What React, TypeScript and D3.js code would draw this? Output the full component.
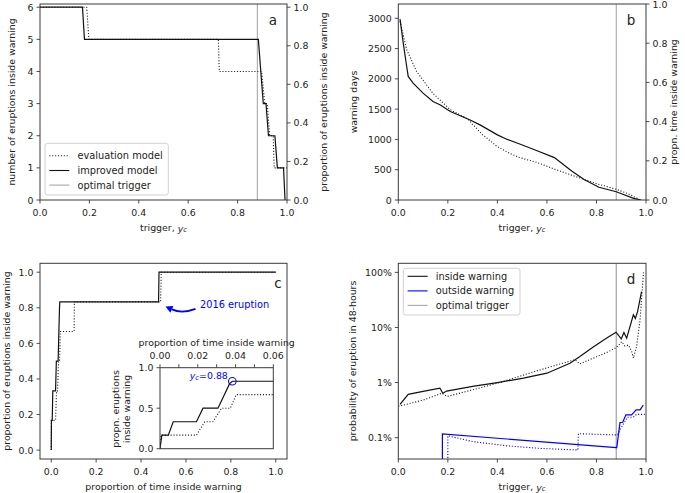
import React from "react";
import * as d3 from "d3";

// ---------------- data ----------------
// panel a: number of eruptions inside warning vs trigger
const aTriggerEval = [0, 0.189, 0.198, 0.722, 0.726, 0.897, 0.91, 0.92, 0.93, 0.944, 0.948, 0.99, 0.999];
const aEruptEval = [6, 6, 5, 5, 4, 4, 3, 3, 2, 2, 1, 1, 1];
const aTriggerImp = [0, 0.172, 0.18, 0.884, 0.904, 0.915, 0.925, 0.951, 0.961, 0.986, 0.992];
const aEruptImp = [6, 6, 5, 5, 3, 3, 2, 2, 1, 1, 0];

// panel b: warning days vs trigger
const bTriggerImp = [0.007, 0.02, 0.034, 0.04, 0.06, 0.1, 0.14, 0.17, 0.21, 0.29, 0.33, 0.4, 0.44, 0.49, 0.55, 0.63, 0.7, 0.75, 0.81, 0.88, 0.95, 0.98];
const bDaysImp = [2985, 2590, 2200, 2040, 1930, 1765, 1625, 1570, 1460, 1320, 1240, 1075, 1000, 925, 830, 700, 480, 340, 210, 137, 28, 0];
const bTriggerEval = [0.007, 0.034, 0.074, 0.14, 0.21, 0.28, 0.3, 0.34, 0.4, 0.45, 0.49, 0.56, 0.63, 0.7, 0.75, 0.8, 0.88, 0.93, 0.976];
const bDaysEval = [2950, 2480, 2120, 1760, 1490, 1340, 1250, 1080, 880, 770, 700, 620, 510, 410, 340, 270, 177, 100, 0];

// panel c: proportion of eruptions vs proportion of time inside warning
const cTimeImp = [0, 0.001, 0.0044, 0.007, 0.0193, 0.0228, 0.0307, 0.0368, 0.0383, 0.478, 0.48, 1.0];
const cEruptImp = [0, 0.167, 0.167, 0.333, 0.333, 0.5, 0.5, 0.8, 0.833, 0.833, 1.0, 1.0];
const cTimeEval = [0, 0.0005, 0.0193, 0.0237, 0.028, 0.0326, 0.0372, 0.0404, 0.102, 0.103, 0.487, 0.49, 1.0];
const cEruptEval = [0, 0.167, 0.167, 0.333, 0.333, 0.5, 0.5, 0.667, 0.667, 0.833, 0.833, 1.0, 1.0];
const optimalTime = 0.0383;
const optimalErupt = 0.833;
const optimalTrigger = 0.88;

// panel d: probability of eruption in 48 hours
const dTriggerInImp = [0.007, 0.04, 0.1, 0.168, 0.18, 0.195, 0.3, 0.4, 0.505, 0.6, 0.693, 0.733, 0.787, 0.84, 0.879, 0.9, 0.911, 0.922, 0.949, 0.957, 0.966, 0.982];
const dProbInImp = [0.004, 0.0061, 0.0069, 0.0079, 0.0064, 0.007, 0.0085, 0.01, 0.012, 0.0148, 0.0224, 0.0296, 0.044, 0.064, 0.082, 0.062, 0.081, 0.064, 0.169, 0.146, 0.194, 0.445];
const dTriggerInEval = [0, 0.1, 0.175, 0.198, 0.3, 0.4, 0.572, 0.713, 0.733, 0.84, 0.88, 0.902, 0.915, 0.929, 0.942, 0.949, 0.962, 0.976, 0.99];
const dProbInEval = [0.0037, 0.0048, 0.0064, 0.0056, 0.0074, 0.0097, 0.017, 0.026, 0.0218, 0.035, 0.043, 0.055, 0.046, 0.048, 0.037, 0.0277, 0.045, 0.137, 1.0];
const dTriggerOutImp = [0.178, 0.178, 0.88, 0.882, 0.895, 0.906, 0.919, 0.942, 0.96, 0.976, 0.989];
const dProbOutImp = [0.00001, 0.00117, 0.00066, 0.00066, 0.00188, 0.0019, 0.0026, 0.0026, 0.0032, 0.0032, 0.0039];
const dTriggerOutEval = [0.2, 0.2, 0.3, 0.44, 0.57, 0.715, 0.725, 0.727, 0.885, 0.895, 0.915, 0.925, 0.949, 0.962, 0.995];
const dProbOutEval = [0.00001, 0.00108, 0.00085, 0.00071, 0.00064, 0.0006, 0.0006, 0.00118, 0.00112, 0.00139, 0.00196, 0.00235, 0.00235, 0.00265, 0.00265];

// ticks
const unitTicks = [0, 0.2, 0.4, 0.6, 0.8, 1.0];
const aLeftTicks = [0, 1, 2, 3, 4, 5, 6];
const bLeftTicks = [0, 500, 1000, 1500, 2000, 2500, 3000];
const insetXTicks = [0, 0.01, 0.02, 0.03, 0.04, 0.05, 0.06];
const insetYTicks = [0, 0.5, 1.0];
const dYTicks = [0.001, 0.01, 0.1, 1];
const dYTickLabels = ["0.1%", "1%", "10%", "100%"];

// ---------------- styles ----------------
const FONT = "DejaVu Sans, Verdana, sans-serif";
const FS = 9.4;
const INK = "#222";
const SPINE = "#3a3a3a";
const GRAY = "#a8a8a8";
const BLUE = "#0000ff";
const DOT = "1.1,1.8";

type Box = { l: number; r: number; t: number; b: number };
const A: Box = { l: 40, r: 287, t: 4, b: 200 };
const B: Box = { l: 398.3, r: 646, t: 4, b: 200 };
const C: Box = { l: 40, r: 287, t: 263.3, b: 459 };
const D: Box = { l: 398.3, r: 646, t: 263.3, b: 459 };
const IN: Box = { l: 160, r: 273.3, t: 367.7, b: 448.7 };

const f1 = d3.format(".1f");
const f2 = d3.format(".2f");

function Ticks(props: {
  side: "left" | "right" | "top" | "bottom";
  scale: (v: number) => number;
  values: number[];
  pos: number;
  labels: (string | null)[];
}) {
  const { side, scale, values, pos, labels } = props;
  const L = 3.5;
  return (
    <g>
      {values.map((v, i) => {
        const p = scale(v);
        let line, text;
        const lab = labels[i];
        if (side === "left") {
          line = <line x1={pos - L} x2={pos} y1={p} y2={p} />;
          text = lab && <text x={pos - 6.5} y={p} textAnchor="end" dominantBaseline="central">{lab}</text>;
        } else if (side === "right") {
          line = <line x1={pos} x2={pos + L} y1={p} y2={p} />;
          text = lab && <text x={pos + 6.5} y={p} textAnchor="start" dominantBaseline="central">{lab}</text>;
        } else if (side === "bottom") {
          line = <line x1={p} x2={p} y1={pos} y2={pos + L} />;
          text = lab && <text x={p} y={pos + 12.3} textAnchor="middle" dominantBaseline="central">{lab}</text>;
        } else {
          line = <line x1={p} x2={p} y1={pos - L} y2={pos} />;
          text = lab && <text x={p} y={pos - 12.6} textAnchor="middle" dominantBaseline="central">{lab}</text>;
        }
        return (
          <g key={i}>
            <g stroke={SPINE} strokeWidth={0.9}>{line}</g>
            <g fill={INK} fontSize={FS}>{text}</g>
          </g>
        );
      })}
    </g>
  );
}

function Frame({ box }: { box: Box }) {
  return <rect x={box.l} y={box.t} width={box.r - box.l} height={box.b - box.t} fill="none" stroke={SPINE} strokeWidth={1} />;
}

function VLabel({ x, y, children }: { x: number; y: number; children: React.ReactNode }) {
  return (
    <text transform={`translate(${x},${y}) rotate(-90)`} textAnchor="middle" dominantBaseline="central" fontSize={FS} fill={INK}>
      {children}
    </text>
  );
}

function TriggerLabel({ x, y }: { x: number; y: number }) {
  return (
    <text x={x} y={y} textAnchor="middle" dominantBaseline="central" fontSize={FS} fill={INK}>
      trigger,{" "}
      <tspan fontStyle="italic">y</tspan>
      <tspan fontSize={6.8} dy={2.5} fontStyle="italic">c</tspan>
    </text>
  );
}

function mkLine(xs: (v: number) => number, ys: (v: number) => number, xv: number[], yv: number[]) {
  const pts = d3.zip(xv, yv) as [number, number][];
  return d3.line<[number, number]>().x((d) => xs(d[0])).y((d) => ys(d[1]))(pts) || "";
}

function LegendBox(props: { x: number; y: number; w: number; h: number; rows: { label: string; color: string; dash?: string }[]; rowY: number[] }) {
  const { x, y, w, h, rows, rowY } = props;
  return (
    <g>
      <rect x={x} y={y} width={w} height={h} rx={2.5} fill="#fff" fillOpacity={0.8} stroke="#cccccc" strokeWidth={0.9} />
      {rows.map((r, i) => (
        <g key={i}>
          <line x1={x + 4.3} x2={x + 24.3} y1={rowY[i]} y2={rowY[i]} stroke={r.color} strokeWidth={1.1} strokeDasharray={r.dash} />
          <text x={x + 32.5} y={rowY[i]} dominantBaseline="central" fontSize={9.8} fill={INK}>{r.label}</text>
        </g>
      ))}
    </g>
  );
}

export default function App() {
  // scales
  const xA = d3.scaleLinear().domain([0, 1]).range([A.l, A.r]);
  const yA = d3.scaleLinear().domain([0, 6.1]).range([A.b, A.t]);
  const yA2 = d3.scaleLinear().domain([0, 6.1 / 6]).range([A.b, A.t]);

  const xB = d3.scaleLinear().domain([0, 1]).range([B.l, B.r]);
  const yB = d3.scaleLinear().domain([0, 3236]).range([B.b, B.t]);
  const yB2 = d3.scaleLinear().domain([0, 1]).range([B.b, B.t]);

  const xC = d3.scaleLinear().domain([-0.05, 1.05]).range([C.l, C.r]);
  const yC = d3.scaleLinear().domain([-0.05, 1.05]).range([C.b, C.t]);

  const xI = d3.scaleLinear().domain([0, 0.06]).range([IN.l, IN.r]);
  const yI = d3.scaleLinear().domain([0, 1]).range([IN.b, IN.t]);

  const xD = d3.scaleLinear().domain([0, 1]).range([D.l, D.r]);
  const yD = d3.scaleLog().domain([0.00041, 1.46]).range([D.b, D.t]);

  const clip = (id: string, b: Box) => (
    <clipPath id={id}>
      <rect x={b.l} y={b.t} width={b.r - b.l} height={b.b - b.t} />
    </clipPath>
  );

  // arrow for 2016 eruption
  const tail: [number, number] = [195.5, 308.8];
  const ctrl: [number, number] = [182, 314];
  const tip: [number, number] = [165.5, 306.5];
  const dx = tip[0] - ctrl[0], dy = tip[1] - ctrl[1];
  const len = Math.hypot(dx, dy);
  const ux = dx / len, uy = dy / len;
  const hl = 7, hw = 3.6;
  const base: [number, number] = [tip[0] - ux * hl, tip[1] - uy * hl];
  const head = `${tip[0]},${tip[1]} ${base[0] - uy * hw},${base[1] + ux * hw} ${base[0] + uy * hw},${base[1] - ux * hw}`;

  const cx = xI(optimalTime), cy = yI(optimalErupt);

  return (
    <svg width={685} height={493} style={{ position: "absolute", left: 0, top: 0, background: "#fff" }} fontFamily={FONT}>
      <defs>
        {clip("cA", A)}
        {clip("cB", B)}
        {clip("cC", C)}
        {clip("cD", D)}
        {clip("cI", IN)}
      </defs>
      <rect x={0} y={0} width={685} height={493} fill="#fff" />

      {/* ---------- panel a ---------- */}
      <g clipPath="url(#cA)">
        <line x1={xA(optimalTrigger)} x2={xA(optimalTrigger)} y1={A.t} y2={A.b} stroke={GRAY} strokeWidth={1.1} />
        <path d={mkLine(xA, yA, aTriggerEval, aEruptEval)} fill="none" stroke="#222" strokeWidth={1.1} strokeDasharray={DOT} />
        <path d={mkLine(xA, yA, aTriggerImp, aEruptImp)} fill="none" stroke="#111" strokeWidth={1.2} />
      </g>
      <Frame box={A} />
      <Ticks side="bottom" scale={xA} values={unitTicks} pos={A.b} labels={unitTicks.map(f1)} />
      <Ticks side="left" scale={yA} values={aLeftTicks} pos={A.l} labels={aLeftTicks.map(String)} />
      <Ticks side="right" scale={yA2} values={unitTicks} pos={A.r} labels={unitTicks.map(f1)} />
      <text x={273} y={20} textAnchor="middle" dominantBaseline="central" fontSize={13.5} fill={INK}>a</text>
      <LegendBox
        x={45} y={143.3} w={123.3} h={51.7}
        rowY={[155.7, 170.5, 185.1]}
        rows={[
          { label: "evaluation model", color: "#222", dash: DOT },
          { label: "improved model", color: "#111" },
          { label: "optimal trigger", color: GRAY },
        ]}
      />
      <VLabel x={11} y={102}>number of eruptions inside warning</VLabel>
      <VLabel x={323} y={102}>proportion of eruptions inside warning</VLabel>
      <TriggerLabel x={163.5} y={227.5} />

      {/* ---------- panel b ---------- */}
      <g clipPath="url(#cB)">
        <line x1={xB(optimalTrigger)} x2={xB(optimalTrigger)} y1={B.t} y2={B.b} stroke={GRAY} strokeWidth={1.1} />
        <path d={mkLine(xB, yB, bTriggerEval, bDaysEval)} fill="none" stroke="#222" strokeWidth={1.1} strokeDasharray={DOT} />
        <path d={mkLine(xB, yB, bTriggerImp, bDaysImp)} fill="none" stroke="#111" strokeWidth={1.2} />
      </g>
      <Frame box={B} />
      <Ticks side="bottom" scale={xB} values={unitTicks} pos={B.b} labels={unitTicks.map(f1)} />
      <Ticks side="left" scale={yB} values={bLeftTicks} pos={B.l} labels={bLeftTicks.map(String)} />
      <Ticks side="right" scale={yB2} values={unitTicks} pos={B.r} labels={unitTicks.map(f1)} />
      <text x={631} y={19.5} textAnchor="middle" dominantBaseline="central" fontSize={13.5} fill={INK}>b</text>
      <VLabel x={353} y={102}>warning days</VLabel>
      <VLabel x={673} y={102}>propn. time inside warning</VLabel>
      <TriggerLabel x={522} y={227.5} />

      {/* ---------- panel c ---------- */}
      <g clipPath="url(#cC)">
        <path d={mkLine(xC, yC, cTimeEval, cEruptEval)} fill="none" stroke="#222" strokeWidth={1.1} strokeDasharray={DOT} />
        <path d={mkLine(xC, yC, cTimeImp, cEruptImp)} fill="none" stroke="#111" strokeWidth={1.2} />
      </g>
      <Frame box={C} />
      <Ticks side="bottom" scale={xC} values={unitTicks} pos={C.b} labels={unitTicks.map(f1)} />
      <Ticks side="left" scale={yC} values={unitTicks} pos={C.l} labels={unitTicks.map(f1)} />
      <text x={278} y={283} textAnchor="middle" dominantBaseline="central" fontSize={13.5} fill={INK}>c</text>
      <text x={200} y={304} dominantBaseline="central" fontSize={9.8} fill={BLUE}>2016 eruption</text>
      <path d={`M${tail[0]},${tail[1]} Q${ctrl[0]},${ctrl[1]} ${base[0]},${base[1]}`} fill="none" stroke={BLUE} strokeWidth={1.8} />
      <polygon points={head} fill={BLUE} />
      <VLabel x={6.5} y={361}>proportion of eruptions inside warning</VLabel>
      <text x={163.5} y={486.5} textAnchor="middle" dominantBaseline="central" fontSize={FS} fill={INK}>proportion of time inside warning</text>

      {/* inset */}
      <rect x={IN.l} y={IN.t} width={IN.r - IN.l} height={IN.b - IN.t} fill="#fff" />
      <g clipPath="url(#cI)">
        <path d={mkLine(xI, yI, cTimeEval, cEruptEval)} fill="none" stroke="#222" strokeWidth={1.1} strokeDasharray={DOT} />
        <path d={mkLine(xI, yI, cTimeImp, cEruptImp)} fill="none" stroke="#111" strokeWidth={1.2} />
      </g>
      <circle cx={cx} cy={cy} r={3.8} fill="none" stroke={BLUE} strokeWidth={1.1} />
      <text x={cx - 4.5} y={cy - 6} textAnchor="end" dominantBaseline="central" fontSize={FS} fill={BLUE}>
        <tspan fontStyle="italic">y</tspan>
        <tspan fontSize={6.8} dy={2.5} fontStyle="italic">c</tspan>
        <tspan dy={-2.5}>=0.88</tspan>
      </text>
      <Frame box={IN} />
      <Ticks side="top" scale={xI} values={insetXTicks} pos={IN.t} labels={insetXTicks.map((v, i) => (i % 2 === 0 ? f2(v) : null))} />
      <Ticks side="left" scale={yI} values={insetYTicks} pos={IN.l} labels={insetYTicks.map(f1)} />
      <text x={216.7} y={342} textAnchor="middle" dominantBaseline="central" fontSize={FS} fill={INK}>proportion of time inside warning</text>
      <VLabel x={115} y={409}>propn. eruptions</VLabel>
      <VLabel x={126} y={409}>inside warning</VLabel>

      {/* ---------- panel d ---------- */}
      <g clipPath="url(#cD)">
        <line x1={xD(optimalTrigger)} x2={xD(optimalTrigger)} y1={D.t} y2={D.b} stroke={GRAY} strokeWidth={1.3} />
        <path d={mkLine(xD, yD, dTriggerInEval, dProbInEval)} fill="none" stroke="#222" strokeWidth={1.1} strokeDasharray={DOT} />
        <path d={mkLine(xD, yD, dTriggerInImp, dProbInImp)} fill="none" stroke="#111" strokeWidth={1.2} />
        <path d={mkLine(xD, yD, dTriggerOutEval, dProbOutEval)} fill="none" stroke={BLUE} strokeWidth={1.1} strokeDasharray={DOT} />
        <path d={mkLine(xD, yD, dTriggerOutImp, dProbOutImp)} fill="none" stroke={BLUE} strokeWidth={1.2} />
      </g>
      <Frame box={D} />
      <Ticks side="bottom" scale={xD} values={unitTicks} pos={D.b} labels={unitTicks.map(f1)} />
      <Ticks side="left" scale={yD} values={dYTicks} pos={D.l} labels={dYTickLabels} />
      <text x={631} y={279} textAnchor="middle" dominantBaseline="central" fontSize={13.5} fill={INK}>d</text>
      <LegendBox
        x={403.3} y={268.3} w={116.7} h={46.7}
        rowY={[276.3, 290.9, 305.4]}
        rows={[
          { label: "inside warning", color: "#111" },
          { label: "outside warning", color: BLUE },
          { label: "optimal trigger", color: GRAY },
        ]}
      />
      <VLabel x={352} y={361}>probability of eruption in 48-hours</VLabel>
      <TriggerLabel x={522} y={486.5} />
    </svg>
  );
}
